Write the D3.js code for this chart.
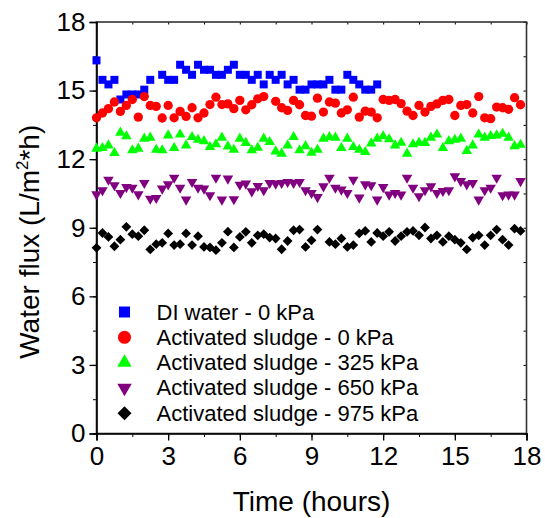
<!DOCTYPE html>
<html>
<head>
<meta charset="utf-8">
<script src="https://cdn.jsdelivr.net/npm/d3@7"></script>
<style>
  body { margin: 0; background: #fff; }
  text { font-family: Arial, "Liberation Sans", sans-serif; fill: #000; }
</style>
</head>
<body>
<div id="d3-container"></div>
<script>
// Sampling times (hours)
const hours = [0, 0.25, 0.5, 0.75, 1, 1.25, 1.5, 1.75, 2, 2.25, 2.5, 2.75,
  3, 3.25, 3.5, 3.75, 4, 4.25, 4.5, 4.75, 5, 5.25, 5.5, 5.75,
  6, 6.25, 6.5, 6.75, 7, 7.25, 7.5, 7.75, 8, 8.25, 8.5, 8.75,
  9, 9.25, 9.5, 9.75, 10, 10.25, 10.5, 10.75, 11, 11.25, 11.5, 11.75,
  12, 12.25, 12.5, 12.75, 13, 13.25, 13.5, 13.75, 14, 14.25, 14.5, 14.75,
  15, 15.25, 15.5, 15.75, 16, 16.25, 16.5, 16.75, 17, 17.25, 17.5, 17.75];

// Water flux values (L/m2*h), null = no point
const diWater0 = [16.32, 15.47, 15.27, 15.47, 14.61, 14.83, 14.83, 14.83, 15.04, 15.47, null, 15.69,
  15.47, 15.47, 16.13, 15.91, 15.69, 16.13, 15.91, 15.91, 15.69, 15.69, 15.91, 16.13,
  15.69, 15.69, 15.47, 15.69, 15.27, 15.69, 15.47, 15.69, 15.27, 15.47, 15.04, 15.04,
  15.27, 15.27, 15.27, 15.47, 15.04, 15.04, 15.69, 15.47, 15.27, 15.04, 15.04, 15.27];
const sludge0 = [13.81, 14.02, 14.21, 14.50, 14.09, 14.35, 14.61, 13.84, 14.74, 14.35, 14.31, 13.80,
  14.35, 13.81, 14.09, 13.87, 14.25, 13.81, 14.02, 14.39, 14.71, 14.39, 14.42, 14.21,
  14.57, 14.16, 14.38, 14.64, 14.74, null, 14.53, 14.25, 14.13, 14.57, 14.38, 13.91,
  13.88, 14.67, 14.06, 14.50, 14.45, 14.02, 14.16, 14.71, 13.84, 14.10, 14.06, 13.81,
  14.61, 14.57, 14.61, 14.43, 14.10, 13.91, 14.35, 14.06, 14.31, 14.42, 14.57, 14.61,
  13.91, 14.35, 14.39, 14.02, 14.74, 13.81, 13.77, 14.28, 14.25, 14.18, 14.69, 14.38];
const sludge325 = [12.46, 12.49, 12.60, 12.27, 13.16, 13.00, 12.39, 12.46, 12.90, 12.94, 12.41, 12.39,
  13.04, 12.49, 13.08, 12.60, 12.97, 12.85, 12.79, 12.53, 12.65, 12.94, 12.56, 12.41,
  12.90, 12.71, 12.39, 12.50, 12.90, 12.75, 12.34, 12.24, 12.60, 12.97, 12.39, 12.57,
  12.28, 12.41, 12.90, 12.97, 12.94, 12.49, 12.90, 12.53, 12.41, 12.31, 12.69, 12.90,
  13.00, 12.87, 12.60, 12.72, 12.24, 12.65, 12.72, 12.71, 12.94, 13.08, 12.49, 12.79,
  12.85, 12.90, 12.36, 12.60, 13.08, 12.94, 13.01, 13.04, 13.11, 12.94, 12.57, 12.63];
const sludge650 = [10.46, 10.64, 11.10, 10.86, 10.52, 10.78, 10.75, 10.46, 10.96, 10.27, 10.30, 10.71,
  10.90, 11.19, 10.75, 10.23, 11.00, 10.75, 10.71, 10.42, 11.19, 10.23, 11.15, 10.25,
  10.88, 10.93, 10.59, 10.83, 10.64, 10.96, 10.93, 10.96, 11.00, 10.96, 11.00, 10.64,
  10.52, 10.34, 10.81, 11.19, 10.75, 10.67, 10.52, 11.10, 10.32, 10.90, 10.86, 10.23,
  10.78, 10.45, 10.52, 10.45, 11.19, 10.75, 10.38, 10.64, 10.81, 10.52, 10.61, 10.64,
  11.25, 11.04, 10.90, 10.96, 10.23, 10.64, 10.75, 11.19, 10.42, 10.45, 10.45, 11.04];
const sludge975 = [8.12, 8.77, 8.60, 8.19, 8.48, 9.04, 8.72, 8.63, 8.89, 8.05, 8.28, 8.34,
  8.75, 8.24, 8.28, 8.75, 8.24, 8.63, 8.16, 8.14, 8.02, 8.34, 8.83, 8.14,
  8.60, 8.82, 8.34, 8.67, 8.72, 8.57, 8.53, 8.06, 8.42, 8.89, 8.92, 8.16,
  8.45, 8.92, null, 8.38, 8.28, 8.53, 8.16, 8.24, 8.75, 8.86, 8.38, 8.77,
  8.63, 8.82, 8.42, 8.63, 8.82, 8.86, 8.67, 9.01, 8.53, 8.67, 8.38, 8.63,
  8.48, 8.34, 8.05, 8.57, 8.67, 8.24, 8.67, 8.92, 8.48, 8.24, 8.96, 8.86];

const seriesNames = ["DI water - 0 kPa", "Activated sludge - 0 kPa", "Activated sludge - 325 kPa",
  "Activated sludge - 650 kPa", "Activated sludge - 975 kPa"];
const seriesValues = [diWater0, sludge0, sludge325, sludge650, sludge975];

const xTicks = [0, 3, 6, 9, 12, 15, 18];
const yTicks = [0, 3, 6, 9, 12, 15, 18];
const minorTicks = [0, 1.5, 3, 4.5, 6, 7.5, 9, 10.5, 12, 13.5, 15, 16.5, 18];

// Chart dimensions
const width = 545;
const height = 518;
const plot = { left: 96.5, right: 526.5, top: 22, bottom: 433.5 };

const colors = ["#0000ff", "#ff0000", "#00ff00", "#800080", "#000000"];
const shapes = [
  { type: d3.symbolSquare, size: 64, rotate: 0, legendSize: 121 },
  { type: d3.symbolCircle, size: 68, rotate: 0, legendSize: 135 },
  { type: d3.symbolTriangle, size: 48, rotate: 0, legendSize: 90 },
  { type: d3.symbolTriangle, size: 48, rotate: 180, legendSize: 90 },
  { type: d3.symbolSquare, size: 48, rotate: 45, legendSize: 98 }
];

const svg = d3
  .select("#d3-container")
  .append("svg")
  .attr("width", width)
  .attr("height", height);

// Scales
const xScale = d3.scaleLinear().domain([0, 18]).range([plot.left, plot.right]);
const yScale = d3.scaleLinear().domain([0, 18]).range([plot.bottom, plot.top]);

// Minor ticks (bottom / left, outward)
svg.append("g")
  .attr("transform", `translate(0, ${plot.bottom})`)
  .call(d3.axisBottom(xScale).tickValues(minorTicks).tickSize(3.5).tickFormat(""))
  .call((g) => g.select(".domain").remove());
svg.append("g")
  .attr("transform", `translate(${plot.left}, 0)`)
  .call(d3.axisLeft(yScale).tickValues(minorTicks).tickSize(3.5).tickFormat(""))
  .call((g) => g.select(".domain").remove());

// Top / right ticks (inward, short)
svg.append("g")
  .attr("transform", `translate(0, ${plot.top})`)
  .call(d3.axisBottom(xScale).tickValues(minorTicks).tickSize(2.5).tickFormat(""))
  .call((g) => g.select(".domain").remove());
svg.append("g")
  .attr("transform", `translate(${plot.right}, 0)`)
  .call(d3.axisLeft(yScale).tickValues(minorTicks).tickSize(3).tickFormat(""))
  .call((g) => g.select(".domain").remove());

// Frame
svg.append("rect")
  .attr("x", plot.left)
  .attr("y", plot.top)
  .attr("width", plot.right - plot.left)
  .attr("height", plot.bottom - plot.top)
  .attr("fill", "none")
  .attr("stroke", "#333")
  .attr("stroke-width", 1.6);

// X axis
const xAxis = svg.append("g")
  .attr("transform", `translate(0, ${plot.bottom})`)
  .call(d3.axisBottom(xScale).tickValues(xTicks).tickSize(7).tickPadding(6));
xAxis.select(".domain").attr("stroke", "#000").attr("stroke-width", 1.6);
xAxis.selectAll(".tick line").attr("stroke-width", 1.3);
xAxis.selectAll("text").style("font-size", "26px");

// Y axis
const yAxis = svg.append("g")
  .attr("transform", `translate(${plot.left}, 0)`)
  .call(d3.axisLeft(yScale).tickValues(yTicks).tickSize(7).tickPadding(4));
yAxis.select(".domain").attr("stroke", "#000").attr("stroke-width", 1.6);
yAxis.selectAll(".tick line").attr("stroke-width", 1.3);
yAxis.selectAll("text").style("font-size", "26px");

// Axis titles
svg.append("text")
  .attr("x", (plot.left + plot.right) / 2)
  .attr("y", 511)
  .attr("text-anchor", "middle")
  .style("font-size", "28px")
  .text("Time (hours)");

const yTitle = svg.append("text")
  .attr("transform", `translate(38.5, ${(plot.top + plot.bottom) / 2 + 14}) rotate(-90)`)
  .attr("text-anchor", "middle")
  .style("font-size", "28px");
yTitle.append("tspan").text("Water flux (L/m");
yTitle.append("tspan").attr("dy", -11).style("font-size", "17px").text("2");
yTitle.append("tspan").attr("dy", 11).text("*h)");

// Data points
seriesValues.forEach((values, s) => {
  const shape = shapes[s];
  const symbol = d3.symbol().type(shape.type).size(shape.size);
  svg.append("g")
    .attr("class", "series")
    .selectAll("path")
    .data(values.map((v, i) => ({ t: hours[i], v })).filter((d) => d.v !== null))
    .enter()
    .append("path")
    .attr("d", symbol)
    .attr("transform", (d) => `translate(${xScale(d.t)}, ${yScale(d.v)}) rotate(${shape.rotate})`)
    .attr("fill", colors[s]);
});

// Legend
const legend = svg.append("g").attr("transform", "translate(124.5, 312)");
const legendItem = legend
  .selectAll(".legend-item")
  .data(seriesNames)
  .enter()
  .append("g")
  .attr("class", "legend-item")
  .attr("transform", (d, i) => `translate(0, ${i * 25.3})`);

legendItem.append("path")
  .attr("d", (d, i) => d3.symbol().type(shapes[i].type).size(shapes[i].legendSize)())
  .attr("transform", (d, i) => `rotate(${shapes[i].rotate})`)
  .attr("fill", (d, i) => colors[i]);

legendItem.append("text")
  .attr("x", 32)
  .attr("y", 7.5)
  .style("font-size", "22px")
  .text((d) => d);
</script>
</body>
</html>
